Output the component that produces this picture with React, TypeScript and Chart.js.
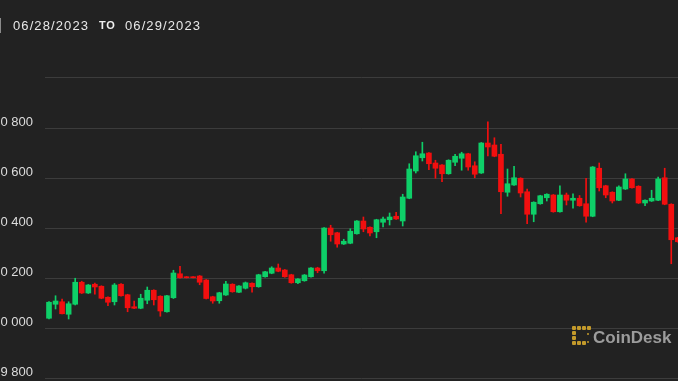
import React, { useEffect, useRef } from "react";
import { Chart, registerables } from "chart.js";

Chart.register(...registerables);

const opens = [30039,30095,30105,30055,30095,30183,30140,30175,30167,30123,30105,30175,30133,30085,30079,30111,30151,30127,30065,30121,30217,30205,30205,30208,30192,30125,30109,30132,30175,30143,30159,30179,30165,30205,30219,30240,30232,30213,30181,30189,30205,30240,30229,30400,30381,30336,30339,30377,30428,30403,30385,30423,30433,30447,30428,30519,30628,30681,30700,30660,30652,30617,30663,30679,30697,30649,30620,30740,30732,30695,30543,30572,30599,30545,30455,30497,30521,30532,30465,30532,30511,30519,30497,30447,30639,30569,30543,30511,30556,30596,30567,30500,30508,30511,30601,30495,30361];
const highs = [30106,30129,30116,30105,30199,30187,30174,30180,30169,30125,30178,30178,30135,30108,30135,30164,30153,30129,30131,30231,30247,30206,30206,30210,30194,30127,30143,30187,30177,30170,30184,30181,30215,30227,30245,30256,30234,30215,30198,30214,30242,30243,30402,30411,30383,30355,30397,30430,30444,30405,30435,30444,30460,30463,30535,30657,30705,30743,30702,30671,30654,30673,30695,30703,30699,30665,30742,30825,30761,30735,30636,30647,30601,30556,30505,30531,30537,30534,30569,30540,30537,30530,30599,30646,30660,30571,30545,30569,30617,30598,30569,30513,30551,30604,30639,30497,30363];
const lows = [30036,30076,30056,30036,30092,30138,30138,30135,30117,30089,30092,30127,30065,30077,30077,30097,30092,30047,30063,30118,30199,30200,30200,30173,30116,30099,30099,30130,30143,30141,30156,30143,30163,30203,30217,30225,30203,30179,30177,30187,30203,30221,30219,30347,30323,30334,30337,30375,30385,30368,30361,30404,30412,30434,30408,30517,30620,30668,30633,30599,30585,30615,30649,30631,30631,30601,30618,30688,30685,30457,30527,30570,30524,30417,30425,30495,30508,30463,30463,30492,30479,30487,30423,30445,30548,30521,30500,30509,30554,30559,30498,30489,30506,30509,30493,30257,30343];
const closes = [30103,30108,30057,30097,30183,30140,30172,30164,30119,30103,30172,30129,30081,30079,30119,30151,30113,30068,30129,30220,30201,30201,30201,30183,30118,30108,30141,30176,30145,30168,30181,30165,30213,30225,30240,30227,30205,30181,30196,30212,30240,30229,30400,30373,30336,30347,30387,30428,30396,30380,30433,30436,30444,30436,30524,30636,30689,30697,30657,30639,30617,30671,30687,30697,30644,30615,30740,30724,30687,30545,30577,30601,30540,30455,30503,30529,30535,30465,30532,30511,30519,30489,30447,30644,30561,30532,30508,30564,30596,30561,30500,30511,30519,30596,30495,30353,30345];

const yTickValues = [29800, 30000, 30200, 30400, 30600, 30800, 31000];
const startDate = "06/28/2023";
const endDate = "06/29/2023";

const UP = "#0ecf68";
const DOWN = "#f20f0f";

export default function App() {
  const ref = useRef<HTMLCanvasElement | null>(null);

  useEffect(() => {
    if (!ref.current) return;
    const idx = opens.map((_, i) => i);
    const colors = idx.map((i) => (closes[i] >= opens[i] ? UP : DOWN));
    const chart = new Chart(ref.current, {
      type: "bar",
      data: {
        datasets: [
          {
            data: idx.map((i) => ({ x: i, y: [opens[i], closes[i]] })) as any,
            backgroundColor: colors,
            barThickness: 5,
            minBarLength: 1,
            grouped: false,
            borderWidth: 0,
          },
          {
            data: idx.map((i) => ({ x: i, y: [lows[i], highs[i]] })) as any,
            backgroundColor: colors,
            barThickness: 1,
            grouped: false,
            borderWidth: 0,
          },
        ],
      },
      options: {
        animation: false,
        responsive: false,
        maintainAspectRatio: false,
        devicePixelRatio: 1,
        layout: { padding: 0 },
        plugins: { legend: { display: false }, tooltip: { enabled: false } },
        scales: {
          x: {
            type: "linear",
            min: -0.61,
            max: 96.03,
            offset: false,
            display: false,
            grid: { display: false },
          },
          y: {
            position: "left",
            min: 29788,
            max: 31312,
            afterBuildTicks: (scale: any) => {
              scale.ticks = yTickValues.map((v) => ({ value: v }));
            },
            afterFit: (scale: any) => {
              scale.width = 45;
              scale.paddingTop = 0;
              scale.paddingBottom = 0;
            },
            border: { display: false },
            grid: { color: "#3c3c3c", lineWidth: 1, drawTicks: false },
            ticks: {
              padding: 12,
              labelOffset: -6,
              color: "#dcdcdc",
              autoSkip: false,
              font: { family: "'Liberation Sans', Arial, sans-serif", size: 13 },
              callback: (v: any) => {
                const n = Number(v);
                if (n === 31000) return "";
                const th = Math.floor(n / 1000);
                const rest = String(n % 1000).padStart(3, "0");
                return `${th} ${rest}`;
              },
            },
          },
        },
      },
    });
    return () => chart.destroy();
  }, []);

  const gold = "#c39a2b";
  const dots: [number, number, number, number][] = [
    [0, 0, 4, 4], [5, 0, 4, 4], [10, 0, 4, 4], [15, 0, 4, 4],
    [0, 5, 4, 4], [0, 10, 4, 4], [0, 15, 4, 4],
    [5, 15, 4, 4], [10, 15, 4, 4],
    [15, 7, 2, 2], [15, 15, 2, 2],
  ];

  return (
    <div
      style={{
        position: "fixed",
        left: 0,
        top: 0,
        width: 678,
        height: 381,
        background: "#222222",
        overflow: "hidden",
        fontFamily: "'Liberation Sans', Arial, sans-serif",
      }}
    >
      <canvas
        ref={ref}
        width={678}
        height={381}
        style={{ position: "absolute", left: 0, top: 0, display: "block" }}
      />
      <div style={{ position: "absolute", left: 0, top: 18, width: 1, height: 15, background: "#8a8a8a" }} />
      <span
        style={{ position: "absolute", left: 13, top: 18.7, fontSize: 13, lineHeight: "13px", color: "#e8e8e8", letterSpacing: 1.1, whiteSpace: "nowrap" }}
      >
        {startDate}
      </span>
      <span
        style={{ position: "absolute", left: 99, top: 20, fontSize: 11, lineHeight: "11px", fontWeight: 700, color: "#f0f0f0", letterSpacing: 0.8 }}
      >
        TO
      </span>
      <span
        style={{ position: "absolute", left: 125, top: 18.7, fontSize: 13, lineHeight: "13px", color: "#e8e8e8", letterSpacing: 1.1, whiteSpace: "nowrap" }}
      >
        {endDate}
      </span>
      <svg
        width={19}
        height={21}
        style={{ position: "absolute", left: 572, top: 326 }}
      >
        {dots.map(([x, y, w, h], k) => (
          <rect key={k} x={x} y={y} width={w} height={h} rx={1} fill={gold} />
        ))}
      </svg>
      <span
        style={{ position: "absolute", left: 593, top: 328.5, fontSize: 17, lineHeight: "17px", fontWeight: 700, color: "#9c9c9c", whiteSpace: "nowrap" }}
      >
        CoinDesk
      </span>
    </div>
  );
}
